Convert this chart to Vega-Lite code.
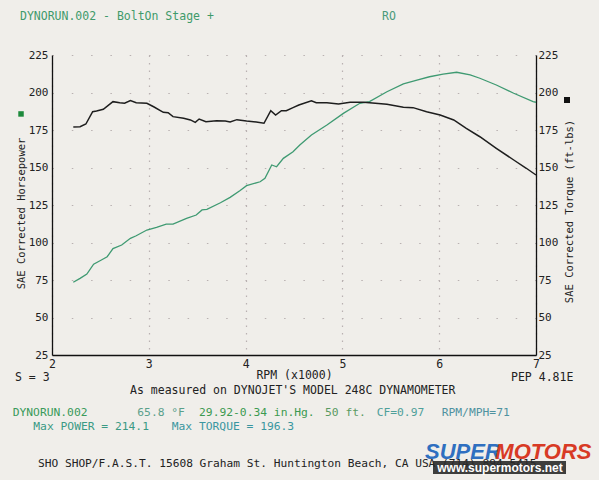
{
  "$schema": "https://vega.github.io/schema/vega-lite/v6.json",
  "width": 484,
  "height": 300,
  "autosize": {"type": "none"},
  "padding": {"left": 52, "top": 55, "right": 63, "bottom": 125},
  "background": "#f0eeea",
  "config": {
    "view": {"stroke": null},
    "font": "DejaVu Sans Mono",
    "axis": {"labelFont": "DejaVu Sans Mono", "titleFont": "DejaVu Sans Mono", "titleFontWeight": "normal", "labelColor": "#222", "titleColor": "#222", "domainColor": "#111", "domainWidth": 1.3, "ticks": false}
  },
  "data": {"values": [{}]},
  "datasets": {
    "hp": [
      {"rpm": 2.22, "hp": 73.5}, {"rpm": 2.29, "hp": 76.1}, {"rpm": 2.36, "hp": 79.0}, {"rpm": 2.43, "hp": 85.5},
      {"rpm": 2.51, "hp": 88.3}, {"rpm": 2.57, "hp": 90.5}, {"rpm": 2.63, "hp": 95.9}, {"rpm": 2.72, "hp": 98.3},
      {"rpm": 2.81, "hp": 102.8}, {"rpm": 2.87, "hp": 104.5}, {"rpm": 2.98, "hp": 108.3}, {"rpm": 3.08, "hp": 110.1},
      {"rpm": 3.18, "hp": 112.3}, {"rpm": 3.25, "hp": 112.3}, {"rpm": 3.39, "hp": 116.1}, {"rpm": 3.49, "hp": 118.3},
      {"rpm": 3.55, "hp": 121.7}, {"rpm": 3.60, "hp": 122.1}, {"rpm": 3.74, "hp": 126.5}, {"rpm": 3.84, "hp": 130.1},
      {"rpm": 3.94, "hp": 134.5}, {"rpm": 4.01, "hp": 137.9}, {"rpm": 4.15, "hp": 140.5}, {"rpm": 4.20, "hp": 142.8},
      {"rpm": 4.27, "hp": 151.7}, {"rpm": 4.32, "hp": 150.5}, {"rpm": 4.39, "hp": 156.1}, {"rpm": 4.49, "hp": 160.5},
      {"rpm": 4.56, "hp": 165.0}, {"rpm": 4.68, "hp": 171.7}, {"rpm": 4.84, "hp": 178.3}, {"rpm": 5.01, "hp": 186.1},
      {"rpm": 5.18, "hp": 192.8}, {"rpm": 5.28, "hp": 193.9}, {"rpm": 5.46, "hp": 200.5}, {"rpm": 5.63, "hp": 205.7},
      {"rpm": 5.77, "hp": 208.3}, {"rpm": 5.90, "hp": 210.5}, {"rpm": 6.04, "hp": 212.3}, {"rpm": 6.18, "hp": 213.5},
      {"rpm": 6.32, "hp": 211.7}, {"rpm": 6.42, "hp": 209.5}, {"rpm": 6.59, "hp": 205.0}, {"rpm": 6.77, "hp": 199.5},
      {"rpm": 6.97, "hp": 193.9}, {"rpm": 7.00, "hp": 193.5}
    ],
    "tq": [
      {"rpm": 2.22, "tq": 177.0}, {"rpm": 2.29, "tq": 177.2}, {"rpm": 2.35, "tq": 179.0}, {"rpm": 2.42, "tq": 187.2},
      {"rpm": 2.46, "tq": 187.7}, {"rpm": 2.53, "tq": 188.8}, {"rpm": 2.63, "tq": 193.9}, {"rpm": 2.70, "tq": 193.2},
      {"rpm": 2.75, "tq": 192.8}, {"rpm": 2.81, "tq": 194.6}, {"rpm": 2.87, "tq": 193.2}, {"rpm": 2.98, "tq": 192.8},
      {"rpm": 3.05, "tq": 190.5}, {"rpm": 3.15, "tq": 186.8}, {"rpm": 3.20, "tq": 186.5}, {"rpm": 3.25, "tq": 183.9},
      {"rpm": 3.36, "tq": 182.8}, {"rpm": 3.43, "tq": 181.7}, {"rpm": 3.48, "tq": 180.1}, {"rpm": 3.52, "tq": 182.3},
      {"rpm": 3.59, "tq": 180.5}, {"rpm": 3.70, "tq": 181.2}, {"rpm": 3.79, "tq": 181.0}, {"rpm": 3.84, "tq": 180.3},
      {"rpm": 3.91, "tq": 181.9}, {"rpm": 4.01, "tq": 181.0}, {"rpm": 4.11, "tq": 180.3}, {"rpm": 4.19, "tq": 179.5},
      {"rpm": 4.26, "tq": 187.9}, {"rpm": 4.31, "tq": 185.0}, {"rpm": 4.37, "tq": 187.9}, {"rpm": 4.42, "tq": 187.9},
      {"rpm": 4.49, "tq": 189.9}, {"rpm": 4.55, "tq": 191.7}, {"rpm": 4.68, "tq": 194.5}, {"rpm": 4.73, "tq": 193.2},
      {"rpm": 4.84, "tq": 193.2}, {"rpm": 4.96, "tq": 192.3}, {"rpm": 5.08, "tq": 193.5}, {"rpm": 5.22, "tq": 193.5},
      {"rpm": 5.28, "tq": 193.2}, {"rpm": 5.46, "tq": 192.1}, {"rpm": 5.63, "tq": 190.1}, {"rpm": 5.73, "tq": 189.9},
      {"rpm": 5.87, "tq": 187.2}, {"rpm": 6.01, "tq": 185.0}, {"rpm": 6.15, "tq": 181.7}, {"rpm": 6.28, "tq": 176.1},
      {"rpm": 6.42, "tq": 170.5}, {"rpm": 6.59, "tq": 162.8}, {"rpm": 6.77, "tq": 155.0}, {"rpm": 6.90, "tq": 149.5},
      {"rpm": 7.00, "tq": 145.0}
    ]
  },
  "resolve": {"axis": {"y": "independent", "x": "independent"}},
  "layer": [
    {
      "data": {"name": "hp"},
      "mark": {"type": "line", "color": "#3f9a72", "strokeWidth": 1.3},
      "encoding": {
        "x": {"field": "rpm", "type": "quantitative", "scale": {"domain": [2, 7], "nice": false, "zero": false},
          "axis": {"values": [2, 3, 4, 5, 6, 7], "labelFlush": false, "labelFontSize": 11.5, "labelPadding": 3, "grid": true, "gridColor": "#b9b1b1", "gridDash": [1.5, 6], "gridWidth": 1.2,
            "title": "RPM (x1000)", "titleFontSize": 11.5, "titlePadding": 0}},
        "y": {"field": "hp", "type": "quantitative", "scale": {"domain": [25, 225], "nice": false, "zero": false},
          "axis": {"orient": "left", "values": [25, 50, 75, 100, 125, 150, 175, 200, 225], "labelFontSize": 11, "labelPadding": 4,
            "grid": true, "gridColor": "#b9b1b1", "gridDash": [1.5, 17.8], "gridWidth": 1.2,
            "title": "SAE Corrected Horsepower", "titleFontSize": 10.5, "titlePadding": 2, "titleY": 158}}
      }
    },
    {
      "data": {"name": "tq"},
      "mark": {"type": "line", "color": "#1e1e1e", "strokeWidth": 1.5},
      "encoding": {
        "x": {"field": "rpm", "type": "quantitative", "axis": null},
        "y": {"field": "tq", "type": "quantitative",
          "axis": {"orient": "right", "values": [25, 50, 75, 100, 125, 150, 175, 200, 225], "labelFontSize": 11, "labelPadding": 2, "grid": false,
            "title": "SAE Corrected Torque (ft-lbs)", "titleFontSize": 10.5, "titlePadding": 17, "titleAngle": 270, "titleY": 156}}
      }
    },
    {"mark": {"type": "square", "size": 30, "color": "#1d8a3c", "opacity": 1},
     "encoding": {"x": {"datum": 1.68, "type": "quantitative", "axis": null}, "y": {"datum": 185.7, "type": "quantitative", "axis": null}}},
    {"mark": {"type": "square", "size": 36, "color": "#111", "opacity": 1},
     "encoding": {"x": {"datum": 7.32, "type": "quantitative", "axis": null}, "y": {"datum": 195, "type": "quantitative", "axis": null}}},
    {"mark": {"type": "text", "text": "DYNORUN.002 - BoltOn Stage +", "align": "left", "baseline": "middle", "fontSize": 11.5, "color": "#3f9a6a"},
     "encoding": {"x": {"datum": 1.669, "type": "quantitative", "axis": null}, "y": {"datum": 250.3, "type": "quantitative", "axis": null}}},
    {"mark": {"type": "text", "text": "RO", "align": "left", "baseline": "middle", "fontSize": 11.5, "color": "#4a9a7a"},
     "encoding": {"x": {"datum": 5.409, "type": "quantitative", "axis": null}, "y": {"datum": 250.3, "type": "quantitative", "axis": null}}},
    {"mark": {"type": "text", "text": "S = 3", "align": "left", "baseline": "middle", "fontSize": 11.5, "color": "#222"},
     "encoding": {"x": {"datum": 1.618, "type": "quantitative", "axis": null}, "y": {"datum": 9.5, "type": "quantitative", "axis": null}}},
    {"mark": {"type": "text", "text": "PEP 4.81E", "align": "left", "baseline": "middle", "fontSize": 11.5, "color": "#222"},
     "encoding": {"x": {"datum": 6.742, "type": "quantitative", "axis": null}, "y": {"datum": 9.5, "type": "quantitative", "axis": null}}},
    {"mark": {"type": "text", "text": "As measured on DYNOJET'S MODEL 248C DYNAMOMETER", "align": "left", "baseline": "middle", "fontSize": 11.5, "color": "#222"},
     "encoding": {"x": {"datum": 2.806, "type": "quantitative", "axis": null}, "y": {"datum": 1.0, "type": "quantitative", "axis": null}}},
    {"mark": {"type": "text", "text": "DYNORUN.002", "align": "left", "baseline": "middle", "fontSize": 11.3, "color": "#3a9a5a"},
     "encoding": {"x": {"datum": 1.594, "type": "quantitative", "axis": null}, "y": {"datum": -13.7, "type": "quantitative", "axis": null}}},
    {"mark": {"type": "text", "text": "65.8 °F", "align": "left", "baseline": "middle", "fontSize": 11.3, "color": "#5aa08a"},
     "encoding": {"x": {"datum": 2.881, "type": "quantitative", "axis": null}, "y": {"datum": -13.7, "type": "quantitative", "axis": null}}},
    {"mark": {"type": "text", "text": "29.92-0.34 in.Hg.", "align": "left", "baseline": "middle", "fontSize": 11.3, "color": "#3c9a50"},
     "encoding": {"x": {"datum": 3.519, "type": "quantitative", "axis": null}, "y": {"datum": -13.7, "type": "quantitative", "axis": null}}},
    {"mark": {"type": "text", "text": "50 ft.", "align": "left", "baseline": "middle", "fontSize": 11.3, "color": "#5a9a62"},
     "encoding": {"x": {"datum": 4.82, "type": "quantitative", "axis": null}, "y": {"datum": -13.7, "type": "quantitative", "axis": null}}},
    {"mark": {"type": "text", "text": "CF=0.97", "align": "left", "baseline": "middle", "fontSize": 11.3, "color": "#4fa09a"},
     "encoding": {"x": {"datum": 5.354, "type": "quantitative", "axis": null}, "y": {"datum": -13.7, "type": "quantitative", "axis": null}}},
    {"mark": {"type": "text", "text": "RPM/MPH=71", "align": "left", "baseline": "middle", "fontSize": 11.3, "color": "#4f92a0"},
     "encoding": {"x": {"datum": 6.026, "type": "quantitative", "axis": null}, "y": {"datum": -13.7, "type": "quantitative", "axis": null}}},
    {"mark": {"type": "text", "text": "Max POWER = 214.1", "align": "left", "baseline": "middle", "fontSize": 11.3, "color": "#3a9a84"},
     "encoding": {"x": {"datum": 1.807, "type": "quantitative", "axis": null}, "y": {"datum": -23, "type": "quantitative", "axis": null}}},
    {"mark": {"type": "text", "text": "Max TORQUE = 196.3", "align": "left", "baseline": "middle", "fontSize": 11.3, "color": "#3a96a0"},
     "encoding": {"x": {"datum": 3.237, "type": "quantitative", "axis": null}, "y": {"datum": -23, "type": "quantitative", "axis": null}}},
    {"mark": {"type": "text", "text": "SHO SHOP/F.A.S.T. 15608 Graham St. Huntington Beach, CA USA (714) 894-5415", "align": "left", "baseline": "middle", "fontSize": 11.2, "color": "#222"},
     "encoding": {"x": {"datum": 1.855, "type": "quantitative", "axis": null}, "y": {"datum": -47.7, "type": "quantitative", "axis": null}}},
    {"mark": {"type": "rect", "color": "#2a2a2a", "opacity": 0.9},
     "encoding": {"x": {"datum": 5.936, "type": "quantitative", "axis": null}, "x2": {"datum": 7.31}, "y": {"datum": -45.7, "type": "quantitative", "axis": null}, "y2": {"datum": -54.3}}},
    {"mark": {"type": "text", "text": "www.supermotors.net", "align": "center", "baseline": "middle", "fontSize": 12, "fontWeight": "bold", "font": "Liberation Sans", "color": "#ffffff"},
     "encoding": {"x": {"datum": 6.628, "type": "quantitative", "axis": null}, "y": {"datum": -50, "type": "quantitative", "axis": null}}},
    {"mark": {"type": "text", "text": "SUPER", "align": "left", "baseline": "middle", "fontSize": 22, "fontWeight": "bold", "fontStyle": "italic", "font": "Liberation Sans", "color": "#2f6fc0"},
     "encoding": {"x": {"datum": 5.853, "type": "quantitative", "axis": null}, "y": {"datum": -39.5, "type": "quantitative", "axis": null}}},
    {"mark": {"type": "text", "text": "MOTORS", "align": "left", "baseline": "middle", "fontSize": 22, "fontWeight": "bold", "fontStyle": "italic", "font": "Liberation Sans", "color": "#d83a25"},
     "encoding": {"x": {"datum": 6.58, "type": "quantitative", "axis": null}, "y": {"datum": -39.5, "type": "quantitative", "axis": null}}}
  ]
}
